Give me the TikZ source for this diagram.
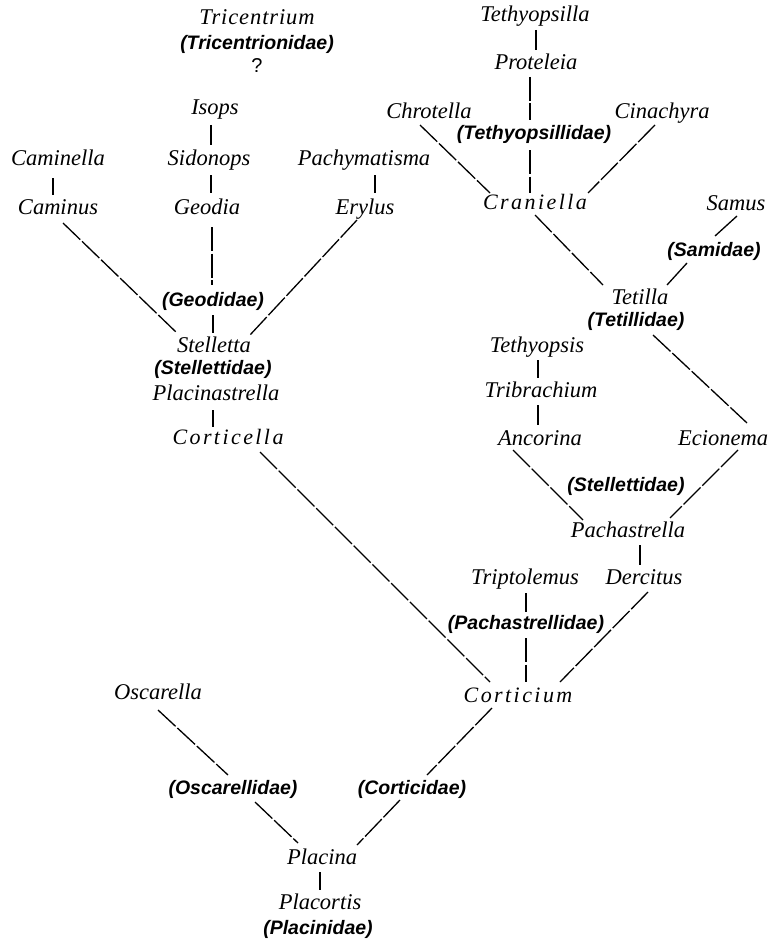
\documentclass[tikz,border=0pt]{standalone}
\usepackage{fontspec}
\setmainfont{Liberation Serif}
\newfontfamily\famfont{Liberation Sans}
\newfontfamily\spacedfont{Liberation Serif}[LetterSpace=11]
\newfontfamily\lightspfont{Liberation Serif}[LetterSpace=4]
\usetikzlibrary{calc}
\tikzset{
  tax/.style={inner sep=0pt, text height=17pt, text depth=3pt, font=\fontsize{22.5}{25}\selectfont\itshape},
  taxsp/.style={inner sep=0pt, text height=17pt, text depth=3pt, font=\fontsize{22}{25}\spacedfont\itshape},
  fam/.style={inner sep=0pt, text height=16.5pt, text depth=3pt, font=\fontsize{19.5}{22}\famfont\bfseries\itshape},
  br/.style={line width=1.3pt, black},
  brd/.style={line width=1.3pt, black, dash pattern=on 24pt off 2.5pt},
}
\newcommand{\conn}[5][br]{\draw[#1] ($(#2)+(#3)$) -- ($(#4)+(#5)$);}
\begin{document}
\begin{tikzpicture}[x=1pt,y=-1pt]
\useasboundingbox (0,0) rectangle (769,939);
% left group
\node[tax, font=\fontsize{22.5}{25}\lightspfont\itshape] (tricentrium) at (257,18) {Tricentrium};
\node[fam] (tricfam) at (257,43) {(Tricentrionidae)};
\node[inner sep=0pt, font=\fontsize{20}{22}\famfont] (qmark) at (257,66) {?};
\node[tax] (isops) at (215,108) {Isops};
\node[tax] (sidonops) at (209,158) {Sidonops};
\node[tax] (geodia) at (207,207) {Geodia};
\node[tax] (caminella) at (58,158) {Caminella};
\node[tax] (caminus) at (58,207) {Caminus};
\node[tax] (pachymatisma) at (364,158) {Pachymatisma};
\node[tax] (erylus) at (365,207) {Erylus};
\node[fam] (geodidae) at (213,300) {(Geodidae)};
\node[tax] (stelletta) at (214,345) {Stelletta};
\node[fam] (stellettidaeA) at (213,368) {(Stellettidae)};
\node[tax] (placinastrella) at (216,393) {Placinastrella};
\node[taxsp] (corticella) at (228,437) {Corticella};
% right group
\node[tax] (tethyopsilla) at (535,15) {Tethyopsilla};
\node[tax] (proteleia) at (536,63) {Proteleia};
\node[fam] (tethyopsillidae) at (534,133) {(Tethyopsillidae)};
\node[tax] (chrotella) at (429,112) {Chrotella};
\node[tax] (cinachyra) at (662,112) {Cinachyra};
\node[taxsp] (craniella) at (535,202) {Craniella};
\node[tax] (samus) at (736,203) {Samus};
\node[fam] (samidae) at (714,250) {(Samidae)};
\node[tax] (tetilla) at (640,297) {Tetilla};
\node[fam] (tetillidae) at (636,320) {(Tetillidae)};
\node[tax] (tethyopsis) at (537,345) {Tethyopsis};
\node[tax] (tribrachium) at (541,390) {Tribrachium};
\node[tax] (ancorina) at (540,438) {Ancorina};
\node[tax] (ecionema) at (723,438) {Ecionema};
\node[fam] (stellettidaeB) at (626,485) {(Stellettidae)};
\node[tax] (pachastrella) at (628,530) {Pachastrella};
\node[tax] (triptolemus) at (525,577) {Triptolemus};
\node[tax] (dercitus) at (644,577) {Dercitus};
\node[fam] (pachastrellidae) at (526,623) {(Pachastrellidae)};
\node[taxsp] (corticium) at (518,695) {Corticium};
% bottom
\node[tax] (oscarella) at (158,692) {Oscarella};
\node[fam] (oscarellidae) at (233,788) {(Oscarellidae)};
\node[fam] (corticidae) at (412,788) {(Corticidae)};
\node[tax] (placina) at (322,857) {Placina};
\node[tax] (placortis) at (320,902) {Placortis};
\node[fam] (placinidae) at (318,928) {(Placinidae)};
% connectors
\conn{isops}{-4,17}{sidonops}{2,-13}
\conn{sidonops}{2,17}{geodia}{4,-14}
\conn{caminella}{-5,20}{caminus}{-5,-12}
\conn{pachymatisma}{11,17}{erylus}{10,-14}
\conn[brd]{caminus}{5,16}{stelletta}{-37,-12}
\conn[brd]{geodia}{5,20}{geodidae}{-1,-15}
\conn{geodidae}{0,15}{stelletta}{-1,-12}
\conn[brd]{erylus}{-8,13}{stelletta}{36,-10}
\conn{placinastrella}{-3,17}{corticella}{-15,-10}
\conn[brd]{corticella}{32,15}{corticium}{-28,-13}
\conn{tethyopsilla}{1,15}{proteleia}{0,-13}
\conn[brd]{proteleia}{-6,14}{tethyopsillidae}{-4,-13}
\conn[brd]{tethyopsillidae}{-4,17}{craniella}{-5,-9}
\conn[brd]{chrotella}{-9,13}{craniella}{-45,-9}
\conn[brd]{cinachyra}{-7,13}{craniella}{53,-9}
\conn[brd]{craniella}{0,13}{tetilla}{-37,-12}
\conn{samus}{1,13}{samidae}{1,-14}
\conn{samidae}{-27,13}{tetilla}{27,-12}
\conn[brd]{tetillidae}{17,15}{ecionema}{24,-15}
\conn{tethyopsis}{1,15}{tribrachium}{-3,-12}
\conn{tribrachium}{-3,15}{ancorina}{-2,-13}
\conn[brd]{ancorina}{-27,12}{pachastrella}{-45,-10}
\conn[brd]{ecionema}{15,12}{pachastrella}{42,-12}
\conn{pachastrella}{12,15}{dercitus}{-4,-12}
\conn{triptolemus}{1,16}{pachastrellidae}{0,-11}
\conn[brd]{pachastrellidae}{0,15}{corticium}{8,-13}
\conn[brd]{dercitus}{4,15}{corticium}{42,-13}
\conn[brd]{oscarella}{0,18}{oscarellidae}{-5,-13}
\conn[brd]{oscarellidae}{22,14}{placina}{-24,-14}
\conn[brd]{corticium}{-26,13}{corticidae}{15,-13}
\conn[brd]{corticidae}{-12,12}{placina}{35,-12}
\conn{placina}{-2,15}{placortis}{0,-12}
\end{tikzpicture}
\end{document}
